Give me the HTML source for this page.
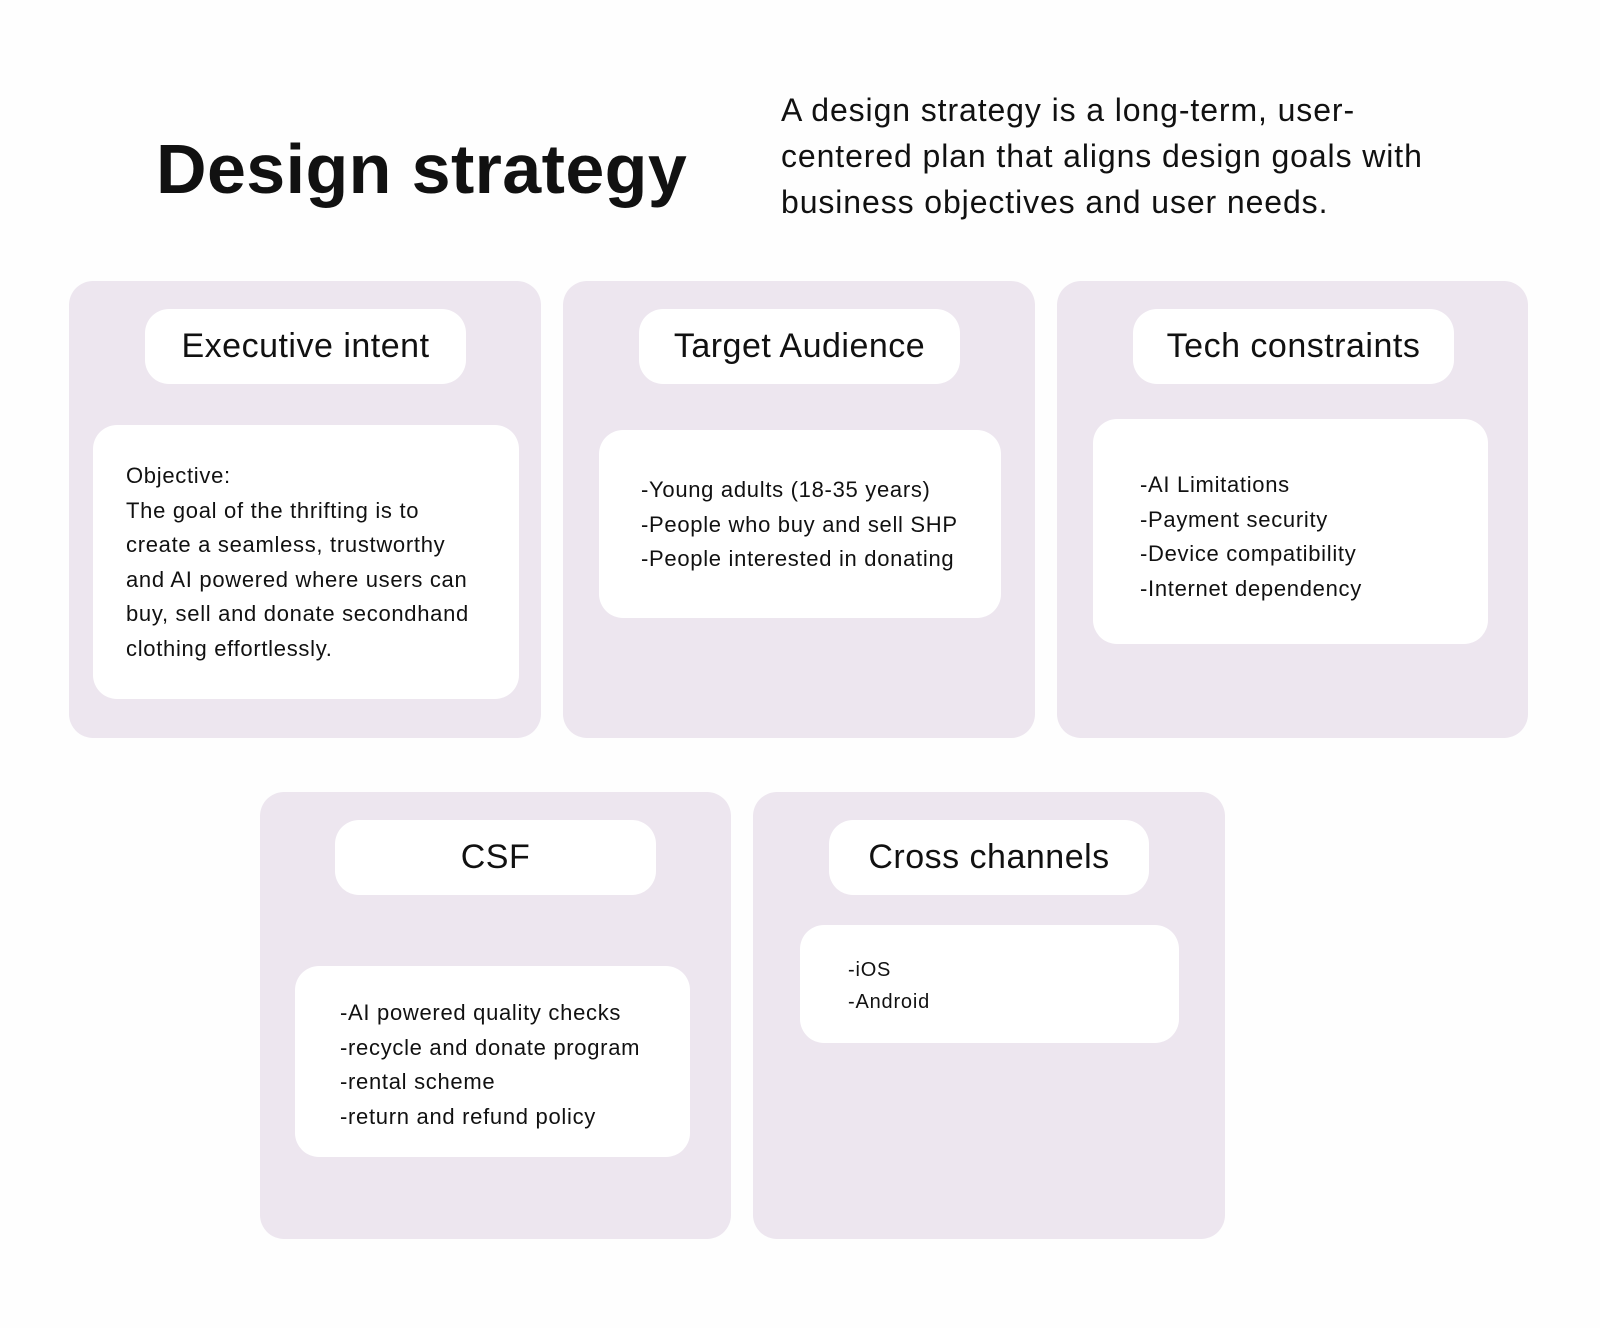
<!DOCTYPE html>
<html><head><meta charset="utf-8"><style>
html,body{margin:0;padding:0}
body{width:1600px;height:1328px;background:#fefefe;position:relative;overflow:hidden;font-family:"Liberation Sans",Arial,sans-serif;color:#111}
.a{position:absolute}
.card{position:absolute;background:#ede6ef;border-radius:24px}
.pill{position:absolute;background:#fff;border-radius:24px;font-size:34px;letter-spacing:0.5px;display:flex;align-items:center;justify-content:center;white-space:nowrap}
.box{position:absolute;background:#fff;border-radius:24px;box-sizing:border-box;font-size:22px;letter-spacing:0.7px;line-height:34.5px;white-space:nowrap}
.l{position:absolute;white-space:nowrap}
</style></head><body>
<div class="a" style="left:156px;top:124px;font-size:70px;font-weight:bold;letter-spacing:0.4px;line-height:90px;white-space:nowrap">Design strategy</div>
<div class="l" style="left:781px;top:87px;font-size:32px;letter-spacing:0.9px;line-height:46px">A design strategy is a long-term, user-<br>centered plan that aligns design goals with<br>business objectives and user needs.</div>

<div class="card" style="left:69px;top:281px;width:472px;height:457px"></div>
<div class="card" style="left:563px;top:281px;width:472px;height:457px"></div>
<div class="card" style="left:1057px;top:281px;width:471px;height:457px"></div>
<div class="card" style="left:260px;top:792px;width:471px;height:447px"></div>
<div class="card" style="left:753px;top:792px;width:472px;height:447px"></div>

<div class="pill" style="left:145px;top:309px;width:321px;height:75px">Executive intent</div>
<div class="pill" style="left:639px;top:309px;width:321px;height:75px">Target Audience</div>
<div class="pill" style="left:1133px;top:309px;width:321px;height:75px">Tech constraints</div>
<div class="pill" style="left:335px;top:820px;width:321px;height:75px">CSF</div>
<div class="pill" style="left:829px;top:820px;width:320px;height:75px">Cross channels</div>

<div class="box" style="left:93px;top:425px;width:426px;height:274px;padding:34px 0 0 33px">Objective:<br>The goal of the thrifting is to<br>create a seamless, trustworthy<br>and AI powered where users can<br>buy, sell and donate secondhand<br>clothing effortlessly.</div>
<div class="box" style="left:599px;top:430px;width:402px;height:188px;padding:43px 0 0 42px">-Young adults (18-35 years)<br>-People who buy and sell SHP<br>-People interested in donating</div>
<div class="box" style="left:1093px;top:419px;width:395px;height:225px;padding:49px 0 0 47px">-AI Limitations<br>-Payment security<br>-Device compatibility<br>-Internet dependency</div>
<div class="box" style="left:295px;top:966px;width:395px;height:191px;padding:30px 0 0 45px">-AI powered quality checks<br>-recycle and donate program<br>-rental scheme<br>-return and refund policy</div>
<div class="box" style="left:800px;top:925px;width:379px;height:118px;padding:29px 0 0 48px;font-size:20px;letter-spacing:0.8px;line-height:32px">-iOS<br>-Android</div>
</body></html>
